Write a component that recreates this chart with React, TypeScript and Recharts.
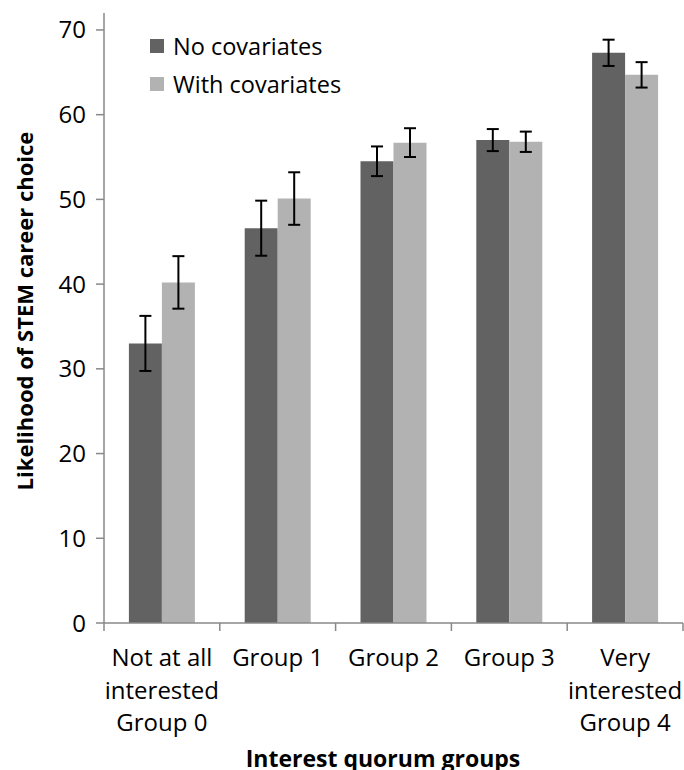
import { Bar, BarChart, ErrorBar, Label, Legend, XAxis, YAxis } from "recharts";

const groupLines = [
  ["Not at all", "interested", "Group 0"],
  ["Group 1"],
  ["Group 2"],
  ["Group 3"],
  ["Very", "interested", "Group 4"],
];
const noCovariates = [33.0, 46.6, 54.5, 57.0, 67.3];
const noCovariatesErr = [3.25, 3.25, 1.75, 1.3, 1.55];
const withCovariates = [40.2, 50.1, 56.7, 56.8, 64.7];
const withCovariatesErr = [3.1, 3.1, 1.7, 1.2, 1.5];
const yTicks = [0, 10, 20, 30, 40, 50, 60, 70];

const FONT = "'Open Sans', sans-serif";
const AXIS_GREY = "#888888";
const DARK = "#626262";
const LIGHT = "#b2b2b2";

const chartData = groupLines.map((lines, i) => ({
  group: lines.join(" "),
  noCov: noCovariates[i],
  noCovErr: noCovariatesErr[i],
  withCov: withCovariates[i],
  withCovErr: withCovariatesErr[i],
}));

/** Rótulo da categoria em várias linhas + marca de divisão à esquerda (e à direita no último) */
function CategoryTick(props: any) {
  const { x, y, payload, index } = props;
  const half = payload?.offset ?? 0;
  const lines = groupLines[index] ?? [String(payload.value)];
  return (
    <g>
      <line x1={x - half} x2={x - half} y1={y} y2={y + 8} stroke={AXIS_GREY} strokeWidth={1.5} />
      {index === groupLines.length - 1 && (
        <line x1={x + half} x2={x + half} y1={y} y2={y + 8} stroke={AXIS_GREY} strokeWidth={1.5} />
      )}
      <text x={x} y={y + 43} textAnchor="middle" fill="#000" fontSize={24} fontFamily={FONT}>
        {lines.map((line, i) => (
          <tspan key={line} x={x} dy={i === 0 ? 0 : 32.5}>
            {line}
          </tspan>
        ))}
      </text>
    </g>
  );
}

function LegendContent(props: any) {
  const items = props.payload ?? [];
  return (
    <div style={{ fontFamily: FONT, fontSize: 23.5, color: "#000" }}>
      {items.map((item: any) => (
        <div key={item.value} style={{ display: "flex", alignItems: "center", height: 38 }}>
          <span style={{ width: 14, height: 14, background: item.color, marginRight: 9 }} />
          <span>{item.value}</span>
        </div>
      ))}
    </div>
  );
}

export default function App() {
  return (
    <div style={{ position: "fixed", left: 0, top: 0, background: "#fff" }}>
      <BarChart
        width={684}
        height={770}
        data={chartData}
        margin={{ top: 13, right: 1, bottom: 0, left: 0 }}
        barCategoryGap="21.5%"
        barGap={0}
      >
        <XAxis
          dataKey="group"
          height={147}
          interval={0}
          tickSize={0}
          tickMargin={0}
          tickLine={false}
          axisLine={{ stroke: AXIS_GREY, strokeWidth: 1.5 }}
          tick={<CategoryTick />}
        >
          <Label
            content={() => (
              <text x={383} y={767} textAnchor="middle" fontSize={23} fontWeight="bold" fontFamily={FONT} fill="#000">
                Interest quorum groups
              </text>
            )}
          />
        </XAxis>
        <YAxis
          width={104}
          domain={[0, 72]}
          ticks={yTicks}
          interval={0}
          tickSize={8}
          tickMargin={10}
          tickLine={{ stroke: AXIS_GREY, strokeWidth: 1.5 }}
          axisLine={{ stroke: AXIS_GREY, strokeWidth: 1.5 }}
          tick={{ fill: "#000", fontSize: 24, fontFamily: FONT }}
        >
          <Label
            content={() => (
              <text
                x={24}
                y={311}
                transform="rotate(-90 24 311)"
                textAnchor="middle"
                dominantBaseline="central"
                fontSize={22}
                fontWeight="bold"
                fontFamily={FONT}
                fill="#000"
              >
                Likelihood of STEM career choice
              </text>
            )}
          />
        </YAxis>
        <Legend
          layout="vertical"
          verticalAlign="middle"
          align="center"
          content={<LegendContent />}
          wrapperStyle={{ left: 150, top: 27, width: 250 }}
        />
        <Bar dataKey="noCov" name="No covariates" fill={DARK} isAnimationActive={false}>
          <ErrorBar dataKey="noCovErr" width={6} stroke="#000" strokeWidth={2} />
        </Bar>
        <Bar dataKey="withCov" name="With covariates" fill={LIGHT} isAnimationActive={false}>
          <ErrorBar dataKey="withCovErr" width={6} stroke="#000" strokeWidth={2} />
        </Bar>
      </BarChart>
    </div>
  );
}
